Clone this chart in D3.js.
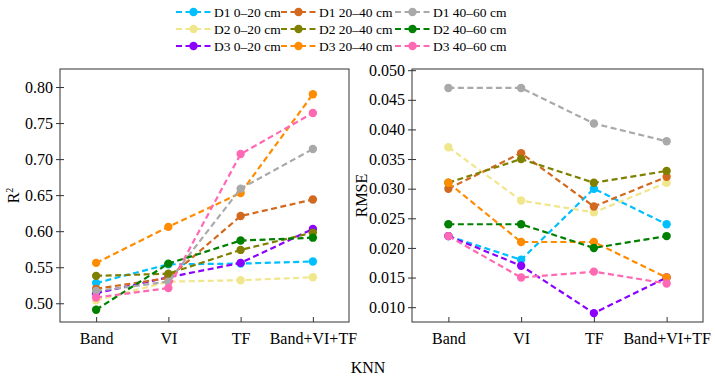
<!DOCTYPE html>
<html>
<head>
<meta charset="utf-8">
<script src="https://cdn.jsdelivr.net/npm/d3@7"></script>
<style>
  body { margin: 0; background: #fff; }
</style>
</head>
<body>
<div id="chart"></div>
<script>
// categories (x axis)
var features = ["Band", "VI", "TF", "Band+VI+TF"];

// series names, legend order (matplotlib ncol=3 fills column by column)
var seriesNames = [
    "D1 0\u201320 cm", "D2 0\u201320 cm", "D3 0\u201320 cm",
    "D1 20\u201340 cm", "D2 20\u201340 cm", "D3 20\u201340 cm",
    "D1 40\u201360 cm", "D2 40\u201360 cm", "D3 40\u201360 cm"
];
var seriesColors = [
    "#00bfff", "#f0e68c", "#8b00ff",
    "#d2691e", "#808000", "#ff8c00",
    "#a9a9a9", "#008000", "#ff69b4"
];

// R2 per series, one value per feature set
var r2Values = [
    [0.528, 0.554, 0.555, 0.558],
    [0.504, 0.530, 0.532, 0.536],
    [0.514, 0.536, 0.556, 0.603],
    [0.520, 0.535, 0.621, 0.644],
    [0.538, 0.541, 0.574, 0.598],
    [0.556, 0.606, 0.653, 0.790],
    [0.517, 0.530, 0.659, 0.714],
    [0.491, 0.555, 0.587, 0.591],
    [0.508, 0.521, 0.707, 0.764]
];

// RMSE per series
var rmseValues = [
    [0.022, 0.018, 0.030, 0.024],
    [0.037, 0.028, 0.026, 0.031],
    [0.022, 0.017, 0.009, 0.015],
    [0.030, 0.036, 0.027, 0.032],
    [0.031, 0.035, 0.031, 0.033],
    [0.031, 0.021, 0.021, 0.015],
    [0.047, 0.047, 0.041, 0.038],
    [0.024, 0.024, 0.020, 0.022],
    [0.022, 0.015, 0.016, 0.014]
];

var r2Ticks = [0.50, 0.55, 0.60, 0.65, 0.70, 0.75, 0.80];
var rmseTicks = [0.010, 0.015, 0.020, 0.025, 0.030, 0.035, 0.040, 0.045, 0.050];

var fontStack = "'Liberation Serif', 'Times New Roman', Tinos, 'DejaVu Serif', serif";

var width = 715, height = 380;
var svg = d3.select("#chart").append("svg")
    .attr("width", width)
    .attr("height", height)
    .attr("font-family", fontStack);

var plotTop = 69, plotBottom = 322;

function drawPanel(x0, x1, values, domain, ticks, fmt, label, labelX) {
    var xScale = d3.scalePoint()
        .domain(features)
        .range([x0, x1])
        .padding(0.5);
    var yScale = d3.scaleLinear()
        .domain(domain)
        .range([plotBottom, plotTop]);

    var g = svg.append("g");

    // y axis, ticks in and out
    var yAxis = g.append("g")
        .attr("transform", "translate(" + x0 + ",0)")
        .call(d3.axisLeft(yScale).tickValues(ticks).tickFormat(d3.format(fmt))
            .tickSize(4).tickSizeOuter(0).tickPadding(3));
    yAxis.select(".domain").remove();
    yAxis.selectAll(".tick line").attr("x2", 4).attr("x1", -4).attr("stroke", "#333");
    yAxis.selectAll("text")
        .attr("font-family", fontStack)
        .style("font-size", "16px");

    var xAxis = g.append("g")
        .attr("transform", "translate(0," + plotBottom + ")")
        .call(d3.axisBottom(xScale).tickSize(-5).tickSizeOuter(0).tickPadding(11));
    xAxis.select(".domain").remove();
    xAxis.selectAll(".tick line").attr("stroke", "#333");
    xAxis.selectAll("text")
        .attr("font-family", fontStack)
        .style("font-size", "16px");

    // frame
    g.append("rect")
        .attr("x", x0).attr("y", plotTop)
        .attr("width", x1 - x0).attr("height", plotBottom - plotTop)
        .attr("fill", "none")
        .attr("stroke", "#333")
        .attr("stroke-width", 1);

    var line = d3.line()
        .x((d, i) => xScale(features[i]))
        .y(d => yScale(d));

    values.forEach(function(vals, s) {
        var sg = g.append("g");
        sg.append("path")
            .datum(vals)
            .attr("d", line)
            .attr("fill", "none")
            .attr("stroke", seriesColors[s])
            .attr("stroke-width", 2.2)
            .attr("stroke-dasharray", "6,3.5");
        sg.selectAll("circle")
            .data(vals)
            .enter()
            .append("circle")
            .attr("cx", (d, i) => xScale(features[i]))
            .attr("cy", d => yScale(d))
            .attr("r", 4.2)
            .attr("fill", seriesColors[s]);
    });

    svg.append("text")
        .attr("transform", "translate(" + labelX + "," + ((plotTop + plotBottom) / 2) + ") rotate(-90)")
        .attr("text-anchor", "middle")
        .style("font-size", "16px")
        .html(label);
}

drawPanel(60, 349, r2Values, [0.474, 0.825], r2Ticks, ".2f",
    'R<tspan dy="-6" font-size="10px">2</tspan>', 19);
drawPanel(412, 703, rmseValues, [0.0075, 0.0502], rmseTicks, ".3f", "RMSE", 367);

svg.append("text")
    .attr("x", 368)
    .attr("y", 373)
    .attr("text-anchor", "middle")
    .style("font-size", "16px")
    .text("KNN");

// legend, 3 columns x 3 rows
var legendCols = [176, 281, 395];
var legendRows = [12, 29, 46];
seriesNames.forEach(function(name, s) {
    var cx = legendCols[Math.floor(s / 3)];
    var cy = legendRows[s % 3];
    var lg = svg.append("g").attr("transform", "translate(" + cx + "," + cy + ")");
    lg.append("line")
        .attr("x1", 0).attr("x2", 35)
        .attr("y1", 0).attr("y2", 0)
        .attr("stroke", seriesColors[s])
        .attr("stroke-width", 2.2)
        .attr("stroke-dasharray", "6,3.5");
    lg.append("circle")
        .attr("cx", 17.5).attr("cy", 0).attr("r", 4.2)
        .attr("fill", seriesColors[s]);
    lg.append("text")
        .attr("x", 38).attr("y", 4.5)
        .style("font-size", "13.5px")
        .text(name);
});
</script>
</body>
</html>
